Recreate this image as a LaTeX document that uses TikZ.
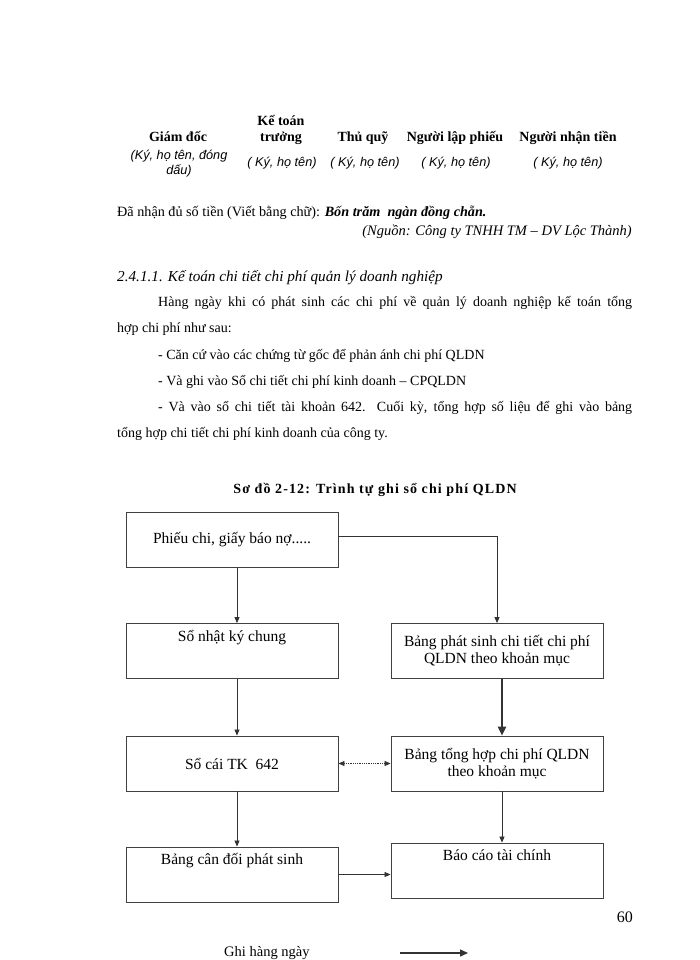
\documentclass[tikz,border=0pt]{standalone}
\usepackage{fontspec}
\setmainfont{Liberation Serif}
\newfontfamily\sigfont{Liberation Sans}
\usetikzlibrary{arrows.meta,positioning}

\begin{document}
\begin{tikzpicture}[
    x=1pt, y=-1pt,
    every node/.style={inner sep=0pt},
    txt/.style={anchor=base west, font=\fontsize{14}{16}\selectfont},
    sig/.style={anchor=base, font=\fontsize{14}{16}\selectfont\bfseries},
    sigi/.style={anchor=base, font=\fontsize{12.7}{14}\selectfont\sigfont\itshape},
    sbox/.style={draw=black!75, line width=0.9pt, rectangle, align=center, minimum width=212pt, minimum height=55pt, font=\fontsize{15.5}{17}\selectfont},
    arrow/.style={-{Triangle[length=6pt,width=5pt]}, draw=black!80, line width=0.8pt}
]
\useasboundingbox[fill=white] (0,0) rectangle (700,960);

\node[sig] (kt1) at (281,126) {Kế toán};
\node[sig] (gd) at (178,142) {Giám đốc};
\node[sig] (kt2) at (281,142) {trưởng};
\node[sig] (tq) at (363,142) {Thủ quỹ};
\node[sig] (nlp) at (455,142) {Người lập phiếu};
\node[sig] (nnt) at (568,142) {Người nhận tiền};
\node[sigi] (gdk1) at (179,160) {(Ký, họ tên, đóng};
\node[sigi] (gdk2) at (179,175) {dấu)};
\node[sigi] (ktk) at (282,167) {( Ký, họ tên)};
\node[sigi] (tqk) at (365,167) {( Ký, họ tên)};
\node[sigi] (nlpk) at (456,167) {( Ký, họ tên)};
\node[sigi] (nntk) at (568,167) {( Ký, họ tên)};

\node[txt, font=\fontsize{14.2}{16}\selectfont] (tien) at (117,216) {Đã nhận đủ số tiền (Viết bằng chữ): \textbf{\textit{Bốn trăm\ \ ngàn đồng chẵn.}}};
\node[txt, anchor=base east, font=\fontsize{14.5}{16}\selectfont\itshape] (nguon) at (632,235) {(Nguồn: Công ty TNHH TM – DV Lộc Thành)};

\node[txt, font=\fontsize{15.2}{17}\selectfont\itshape] (muc) at (117,281) {2.4.1.1. Kế toán chi tiết chi phí quản lý doanh nghiệp};
\node[txt] (l1) at (158,306) {\makebox[474pt][s]{Hàng ngày khi có phát sinh các chi phí về quản lý doanh nghiệp kế toán tổng}};
\node[txt] (l2) at (117,332) {hợp chi phí như sau:};
\node[txt] (l3) at (158,359) {- Căn cứ vào các chứng từ gốc để phản ánh chi phí QLDN};
\node[txt] (l4) at (158,385) {- Và ghi vào Sổ chi tiết chi phí kinh doanh – CPQLDN};
\node[txt] (l5) at (158,411) {\makebox[474pt][s]{- Và vào sổ chi tiết tài khoản 642. Cuối kỳ, tổng hợp số liệu để ghi vào bảng}};
\node[txt] (l6) at (117,437) {tổng hợp chi tiết chi phí kinh doanh của công ty.};

\node[anchor=base, font=\fontsize{14}{16}\selectfont\bfseries\addfontfeatures{LetterSpace=8}] (title) at (375,493) {Sơ đồ 2-12: Trình tự ghi sổ chi phí QLDN};

\node[sbox] (pc) at (232,539.5) {Phiếu chi, giấy báo nợ.....};
\node[sbox, text height=11pt, text depth=31pt] (nkc) at (232,651) {Sổ nhật ký chung};
\node[sbox] (ps) at (497,651) {Bảng phát sinh chi tiết chi phí\\QLDN theo khoản mục};
\node[sbox] (sc) at (232,763.5) {Sổ cái TK\ \ 642};
\node[sbox] (th) at (497,763.5) {Bảng tổng hợp chi phí QLDN\\theo khoản mục};
\node[sbox, text height=11pt, text depth=31pt] (cd) at (232,874.5) {Bảng cân đối phát sinh};
\node[sbox, text height=11pt, text depth=31pt] (bc) at (497,870.5) {Báo cáo tài chính};

\draw[arrow] ([xshift=5pt]pc.south) -- ([xshift=5pt]nkc.north);
\draw[arrow] ([yshift=3.5pt]pc.east) -| (ps.north);
\draw[arrow] ([xshift=5pt]nkc.south) -- ([xshift=5pt]sc.north);
\draw[arrow, line width=2.4pt, -{Triangle[length=9pt,width=8pt]}] ([xshift=5pt]ps.south) -- ([xshift=5pt]th.north);
\draw[arrow, densely dotted, {Triangle[length=6pt,width=5pt]}-{Triangle[length=6pt,width=5pt]}] (sc.east) -- (th.west);
\draw[arrow] ([xshift=5pt]sc.south) -- ([xshift=5pt]cd.north);
\draw[arrow] ([xshift=5pt]th.south) -- ([xshift=5pt]bc.north);
\draw[arrow] (cd.east) -- (cd.east -| bc.west);

\node[anchor=base east, font=\fontsize{16}{18}\selectfont] (page) at (633,922) {60};

\node[txt, font=\fontsize{14.5}{16}\selectfont] (ghi) at (224,956) {Ghi hàng ngày};
\coordinate (la) at (400,953);
\coordinate (lb) at (468,953);
\draw[arrow, line width=1.4pt, -{Triangle[length=8pt,width=7pt]}] (la) -- (lb);
\end{tikzpicture}
\end{document}
